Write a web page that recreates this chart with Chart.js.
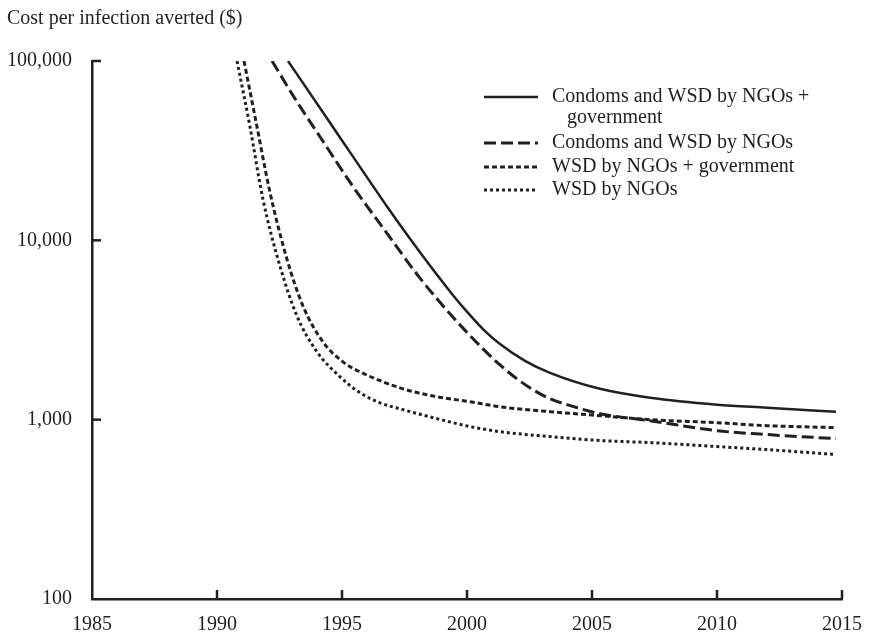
<!DOCTYPE html>
<html lang="en">
<head>
<meta charset="UTF-8">
<title>Cost per infection averted</title>
<style>
  html, body { margin: 0; padding: 0; background: #fff; }
  #wrap { position: relative; width: 869px; height: 634px; }
</style>
</head>
<body>
<div id="wrap"><canvas id="costChart" width="869" height="634"></canvas></div>

<script src="https://cdn.jsdelivr.net/npm/chart.js"></script>
<script>
// values
const yTicks = [100, 1000, 10000, 100000];
const xTicks = [1985, 1990, 1995, 2000, 2005, 2010, 2015];

const bothGovYears = [1992.84, 1994.44, 1995.44, 1996.8, 1998.12, 1999.44, 2000.12, 2000.72, 2001.32, 2002.32, 2003.32, 2005.32, 2007.32, 2010, 2012, 2014.76];
const bothGovCost  = [100000, 47000, 29300, 15450, 8580, 4946, 3830, 3120, 2642, 2128, 1824, 1486, 1325, 1212, 1166, 1107];

const bothNgoYears = [1992.2, 1993.2, 1994.12, 1995.44, 1996.8, 1998.12, 1999.44, 2000.64, 2001.32, 2001.92, 2002.64, 2003.32, 2004, 2005.32, 2007.32, 2010, 2012, 2014.76];
const bothNgoCost  = [100000, 59200, 37800, 19950, 10940, 6150, 3730, 2480, 2020, 1722, 1468, 1309, 1212, 1080, 987, 868, 826, 784];

const wsdGovYears = [1991.08, 1991.6, 1992.12, 1992.8, 1993.44, 1994.24, 1995.04, 1995.72, 1997.44, 1998.8, 2000.12, 2001.32, 2003.32, 2005.32, 2007.32, 2010, 2012, 2014.7];
const wsdGovCost  = [100000, 43000, 18490, 7840, 4300, 2710, 2100, 1848, 1486, 1342, 1259, 1180, 1108, 1052, 1000, 962, 926, 903];

const wsdNgoYears = [1990.8, 1991.32, 1991.84, 1992.52, 1993.2, 1994, 1994.92, 1995.72, 1996.52, 1997.44, 1998.8, 2000.12, 2001.32, 2003.32, 2005.32, 2007.32, 2010, 2012, 2014.7];
const wsdNgoCost  = [100000, 43000, 16900, 7170, 3780, 2390, 1734, 1413, 1242, 1137, 1013, 915, 857, 805, 765, 745, 708, 681, 640];

const INK = '#231f20';
const FONT = '"Liberation Serif", "Times New Roman", serif';

function toPoints(xs, ys) {
    return xs.map((x, i) => ({ x: x, y: ys[i] }));
}

function lineSet(label, xs, ys, dash, width) {
    return {
        label: label,
        data: toPoints(xs, ys),
        borderColor: INK,
        borderWidth: width,
        borderDash: dash,
        borderCapStyle: 'butt',
        pointRadius: 0,
        fill: false,
        cubicInterpolationMode: 'monotone'
    };
}

// inward tick marks, title and legend
const extras = {
    id: 'extras',
    afterDraw(chart) {
        const ctx = chart.ctx;
        const xs = chart.scales.x, ys = chart.scales.y;
        const area = chart.chartArea;
        ctx.save();
        ctx.strokeStyle = INK;
        ctx.lineWidth = 2.5;
        ctx.setLineDash([]);
        xTicks.slice(1).forEach(v => {
            const px = xs.getPixelForValue(v);
            ctx.beginPath();
            ctx.moveTo(px, area.bottom);
            ctx.lineTo(px, area.bottom - 9);
            ctx.stroke();
        });
        yTicks.slice(1).forEach(v => {
            const py = ys.getPixelForValue(v);
            ctx.beginPath();
            ctx.moveTo(area.left, py);
            ctx.lineTo(area.left + 9, py);
            ctx.stroke();
        });

        ctx.fillStyle = INK;
        ctx.font = '20px ' + FONT;
        ctx.textAlign = 'left';
        ctx.textBaseline = 'middle';
        ctx.fillText('Cost per infection averted ($)', 7, 19);

        // legend
        const rows = [97, 143, 167, 190];
        chart.data.datasets.forEach((ds, i) => {
            const y = rows[i];
            ctx.lineWidth = ds.borderWidth;
            ctx.setLineDash(ds.borderDash);
            ctx.beginPath();
            ctx.moveTo(484, y);
            ctx.lineTo(538, y);
            ctx.stroke();
            ctx.setLineDash([]);
            const parts = ds.label.split('\n');
            ctx.fillText(parts[0], 552, y);
            if (parts[1]) ctx.fillText(parts[1], 567, y + 21);
        });
        ctx.restore();
    }
};

new Chart(document.getElementById('costChart'), {
    type: 'line',
    data: {
        datasets: [
            lineSet('Condoms and WSD by NGOs +\ngovernment', bothGovYears, bothGovCost, [], 2.5),
            lineSet('Condoms and WSD by NGOs', bothNgoYears, bothNgoCost, [12, 5], 3),
            lineSet('WSD by NGOs + government', wsdGovYears, wsdGovCost, [5, 3], 3),
            lineSet('WSD by NGOs', wsdNgoYears, wsdNgoCost, [3, 3], 3)
        ]
    },
    options: {
        responsive: false,
        animation: false,
        layout: { padding: { top: 61, right: 27, left: 0, bottom: 0 } },
        plugins: {
            legend: { display: false },
            tooltip: { enabled: false }
        },
        scales: {
            x: {
                type: 'linear',
                min: 1985,
                max: 2015,
                afterBuildTicks: s => { s.ticks = xTicks.map(v => ({ value: v })); },
                afterFit: s => { s.height = 35; s.paddingLeft = 0; s.paddingRight = 0; },
                grid: { display: false, drawTicks: false },
                border: { display: true, color: INK, width: 2.5 },
                ticks: {
                    color: INK,
                    font: { family: FONT, size: 20 },
                    padding: 14,
                    maxRotation: 0,
                    callback: v => String(v)
                }
            },
            y: {
                type: 'logarithmic',
                min: 100,
                max: 100000,
                afterBuildTicks: s => { s.ticks = yTicks.map(v => ({ value: v })); },
                afterFit: s => { s.width = 92; },
                grid: { display: false, drawTicks: false },
                border: { display: true, color: INK, width: 2.5 },
                ticks: {
                    color: INK,
                    font: { family: FONT, size: 20 },
                    padding: 20,
                    callback: v => v.toLocaleString('en-US')
                }
            }
        }
    },
    plugins: [extras]
});
</script>
</body>
</html>
